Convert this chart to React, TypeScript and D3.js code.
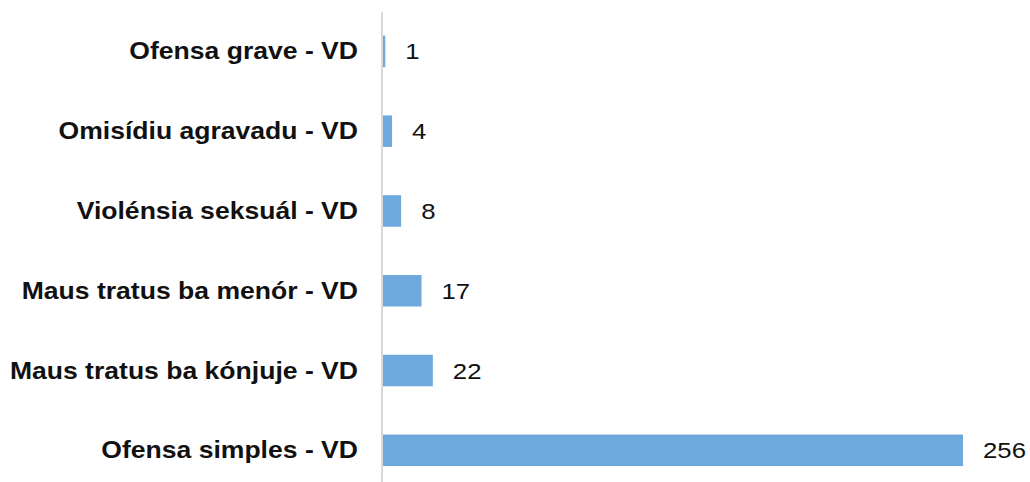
import { useEffect, useRef } from "react";
import * as d3 from "d3";

const categories = [
  "Ofensa grave - VD",
  "Omisídiu agravadu - VD",
  "Violénsia seksuál - VD",
  "Maus tratus ba menór - VD",
  "Maus tratus ba kónjuje - VD",
  "Ofensa simples - VD",
];
const values = [1, 4, 8, 17, 22, 256];

const width = 1030;
const height = 482;

const App = () => {
  const svgRef = useRef<SVGSVGElement | null>(null);

  useEffect(() => {
    if (!svgRef.current) return;
    const svg = d3.select(svgRef.current);
    svg.selectAll("*").remove();

    const x0 = 383;
    const x = d3.scaleLinear().domain([0, 256]).range([x0, 963]);
    const y = d3
      .scaleBand<string>()
      .domain(categories)
      .range([11.7, 490])
      .paddingInner(0.605)
      .paddingOuter(0.3);

    const font = "'Liberation Sans', Arial, sans-serif";

    // axis line
    svg
      .append("line")
      .attr("x1", x0 - 1)
      .attr("x2", x0 - 1)
      .attr("y1", 12)
      .attr("y2", height)
      .attr("stroke", "#d9d9d9")
      .attr("stroke-width", 2);

    svg
      .append("g")
      .selectAll("rect")
      .data(values)
      .join("rect")
      .attr("x", x0)
      .attr("y", (_, i) => y(categories[i])!)
      .attr("width", (d) => x(d) - x0)
      .attr("height", y.bandwidth())
      .attr("fill", "#6fa8dc");

    // category labels (text in the source is a bit wide, so stretch it)
    svg
      .append("g")
      .selectAll("text")
      .data(categories)
      .join("text")
      .attr(
        "transform",
        (d) => `translate(358,${y(d)! + y.bandwidth() / 2}) scale(1.155,1)`
      )
      .attr("dy", "0.35em")
      .attr("text-anchor", "end")
      .attr("font-family", font)
      .attr("font-weight", "bold")
      .attr("font-size", 23)
      .attr("fill", "#111")
      .text((d) => d);

    svg
      .append("g")
      .selectAll("text")
      .data(values)
      .join("text")
      .attr(
        "transform",
        (d, i) =>
          `translate(${x(d) + 20},${y(categories[i])! + y.bandwidth() / 2}) scale(1.12,1)`
      )
      .attr("dy", "0.35em")
      .attr("font-family", font)
      .attr("font-size", 23)
      .attr("fill", "#111")
      .text((d) => d);
  }, []);

  return (
    <svg
      ref={svgRef}
      width={width}
      height={height}
      style={{ position: "absolute", left: 0, top: 0, background: "#fff" }}
    />
  );
};

export default App;
